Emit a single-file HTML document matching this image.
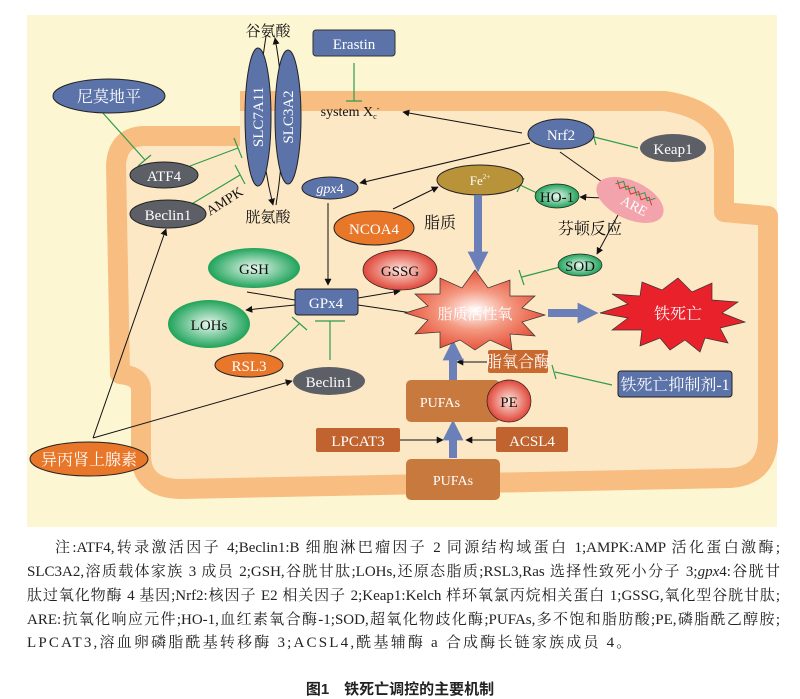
<!DOCTYPE html>
<html><head><meta charset="utf-8"><style>
body{margin:0;width:800px;height:694px;background:#fff;overflow:hidden;position:relative;font-family:"Liberation Serif","Noto Serif CJK SC",serif}
.cap{position:absolute;left:27px;width:753px;font-size:15px;line-height:18px;text-align:justify;text-align-last:justify;white-space:nowrap;color:#222}
.ttl{position:absolute;left:0;width:800px;top:678px;text-align:center;font-family:"Liberation Sans","Noto Sans CJK SC",sans-serif;font-weight:bold;font-size:15px;color:#222}
</style></head><body>
<svg width="800" height="530" style="position:absolute;left:0;top:0" font-family="Liberation Serif, Noto Serif CJK SC, serif">
<defs>
<marker id="a" viewBox="0 0 10 10" refX="9" refY="5" markerWidth="7" markerHeight="7" orient="auto"><path d="M0,0L10,5L0,10z" fill="#111"/></marker>
<marker id="b" viewBox="0 0 10 10" refX="5" refY="5" markerWidth="2.6" markerHeight="2.6" orient="auto"><path d="M0,0L10,5L0,10z" fill="#6b80b8"/></marker>
<radialGradient id="gg"><stop offset="0" stop-color="#e8f7ee"/><stop offset="1" stop-color="#1fa35a"/></radialGradient>
<radialGradient id="rg"><stop offset="0" stop-color="#fde6dc"/><stop offset="1" stop-color="#e0473a"/></radialGradient>
<radialGradient id="sg"><stop offset="0" stop-color="#fff"/><stop offset="0.5" stop-color="#f49880"/><stop offset="1" stop-color="#e8553e"/></radialGradient>
</defs>
<rect x="27" y="15" width="750" height="512" fill="#fdf6d3"/>
<path d="M240,101 L665,101 Q722,110 724,150 L724,212 L768,216 L768,440 Q766,476 730,478 L180,489 Q141,488 141,455 L141,390 Q141,376 120,374 L116,165 Q118,136 145,136 L240,136" fill="#fde8c6" stroke="#f8bd80" stroke-width="20" stroke-linejoin="round"/>
<path d="M266,36 Q252,120 273,205" fill="none" stroke="#111" stroke-width="1" marker-end="url(#a)"/>
<path d="M276,205 Q290,120 275,38" fill="none" stroke="#111" stroke-width="1" marker-end="url(#a)"/>
<ellipse cx="258" cy="117" rx="13" ry="69" fill="#5b73a8" stroke="#222" stroke-width="1"/>
<ellipse cx="288" cy="117" rx="13" ry="67" fill="#5b73a8" stroke="#222" stroke-width="1"/>
<text transform="translate(263,117) rotate(-90)" text-anchor="middle" font-size="15" fill="#fff">SLC7A11</text>
<text transform="translate(293,117) rotate(-90)" text-anchor="middle" font-size="15" fill="#fff">SLC3A2</text>
<text x="268" y="36" text-anchor="middle" font-size="15" fill="#111">谷氨酸</text>
<text x="268" y="222" text-anchor="middle" font-size="15" fill="#111">胱氨酸</text>
<rect x="313" y="30" width="82" height="26" rx="3" fill="#5b73a8" stroke="#333"/>
<text x="354" y="49" text-anchor="middle" font-size="15" fill="#fff">Erastin</text>
<g stroke="#2e9c4c" stroke-width="1.2" fill="none">
<path d="M354,63V101M346,101H362"/>
<path d="M102,112L145,160M138,166L151,155"/>
<path d="M190,166L238,148M234,138L242,158"/>
<path d="M190,205L240,175M235,165L245,184"/>
<path d="M638,148L594,137M592,130L596,145"/>
<path d="M537,193L520,185M524,178L517,192"/>
<path d="M560,267L522,277M519,270L524,285"/>
<path d="M270,352L300,323M292,317L307,330"/>
<path d="M330,360V321M315,321H345"/>
<path d="M612,385L555,372M552,365L556,379"/>
</g>
<text x="350" y="116" text-anchor="middle" font-size="14" fill="#111">system X<tspan font-size="8" dy="3">c</tspan><tspan font-size="8" dy="-8">-</tspan></text>
<ellipse cx="109" cy="96" rx="56" ry="17" fill="#5b73a8" stroke="#222"/>
<text x="109" y="102" text-anchor="middle" font-size="16" fill="#fff">尼莫地平</text>
<ellipse cx="164" cy="175" rx="34" ry="13" fill="#5d5f66" stroke="#222"/>
<text x="164" y="181" text-anchor="middle" font-size="15" fill="#fff">ATF4</text>
<ellipse cx="168" cy="214" rx="38" ry="14" fill="#5d5f66" stroke="#222"/>
<text x="168" y="220" text-anchor="middle" font-size="15" fill="#fff">Beclin1</text>
<text transform="translate(227,205) rotate(-33)" text-anchor="middle" font-size="14" fill="#111">AMPK</text>
<g stroke="#111" stroke-width="1" fill="none" marker-end="url(#a)">
<path d="M522,133L403,112"/>
<path d="M530,143L360,183"/>
<path d="M560,152L612,189"/>
<path d="M603,198L580,197"/>
<path d="M618,215L597,254"/>
<path d="M393,209L438,187"/>
<path d="M328,203V285"/>
<path d="M295,305L246,310"/>
<path d="M358,298L400,291"/>
<path d="M487,362H457"/>
<path d="M93,438L166,229"/>
<path d="M93,438L292,381"/>
<path d="M400,440H443"/>
<path d="M496,440H466"/>
</g>
<path d="M247,292L295,300M358,305L412,313" stroke="#111" stroke-width="1" fill="none"/>
<ellipse cx="330" cy="188" rx="28" ry="11" fill="#5b73a8" stroke="#222"/>
<text x="330" y="193" text-anchor="middle" font-size="14" font-style="italic" fill="#fff">gpx<tspan font-style="normal">4</tspan></text>
<ellipse cx="561" cy="134" rx="33" ry="15" fill="#5b73a8" stroke="#222"/>
<text x="561" y="140" text-anchor="middle" font-size="15" fill="#fff">Nrf2</text>
<ellipse cx="673" cy="148" rx="33" ry="14" fill="#5d5f66"/>
<text x="673" y="154" text-anchor="middle" font-size="15" fill="#fff">Keap1</text>
<ellipse cx="480" cy="180" rx="43" ry="15" fill="#b9933a" stroke="#222"/>
<text x="480" y="185" text-anchor="middle" font-size="13" fill="#fff">Fe<tspan font-size="7" dy="-6">2+</tspan></text>
<ellipse cx="557" cy="196" rx="22" ry="12" fill="url(#gg)" stroke="#222" stroke-width=".7"/>
<text x="557" y="202" text-anchor="middle" font-size="15" fill="#111">HO-1</text>
<ellipse cx="630" cy="200" rx="36" ry="19" transform="rotate(25 630 200)" fill="#f2a3ab"/>
<path d="M612,188l6,6 6,-6 6,6 6,-6 6,6 6,-6 6,6" stroke="#d33" fill="none" transform="rotate(28 630 195)"/>
<path d="M612,192l6,-6 6,6 6,-6 6,6 6,-6 6,6 6,-6" stroke="#2a9a4a" fill="none" transform="rotate(28 630 195)"/>
<text transform="translate(632,210) rotate(28)" text-anchor="middle" font-size="14" fill="#fff">ARE</text>
<ellipse cx="580" cy="265" rx="22" ry="11" fill="url(#gg)" stroke="#222" stroke-width=".7"/>
<text x="580" y="271" text-anchor="middle" font-size="15" fill="#111">SOD</text>
<text x="440" y="228" text-anchor="middle" font-size="16" fill="#111">脂质</text>
<text x="590" y="234" text-anchor="middle" font-size="16" fill="#111">芬顿反应</text>
<ellipse cx="374" cy="228" rx="40" ry="17" fill="#e8772a" stroke="#222"/>
<text x="374" y="234" text-anchor="middle" font-size="15" fill="#fff">NCOA4</text>
<ellipse cx="254" cy="268" rx="46" ry="20" fill="url(#gg)"/>
<text x="254" y="274" text-anchor="middle" font-size="15" fill="#111">GSH</text>
<ellipse cx="400" cy="270" rx="37" ry="20" fill="url(#rg)" stroke="#222" stroke-width=".7"/>
<text x="400" y="276" text-anchor="middle" font-size="15" fill="#111">GSSG</text>
<ellipse cx="209" cy="324" rx="41" ry="24" fill="url(#gg)"/>
<text x="209" y="330" text-anchor="middle" font-size="15" fill="#111">LOHs</text>
<rect x="295" y="289" width="63" height="26" rx="3" fill="#5b73a8" stroke="#222"/>
<text x="326" y="308" text-anchor="middle" font-size="15" fill="#fff">GPx4</text>
<ellipse cx="249" cy="365" rx="34" ry="12" fill="#e8772a" stroke="#222"/>
<text x="249" y="371" text-anchor="middle" font-size="15" fill="#fff">RSL3</text>
<ellipse cx="329" cy="381" rx="36" ry="14" fill="#5d5f66"/>
<text x="329" y="387" text-anchor="middle" font-size="15" fill="#fff">Beclin1</text>
<ellipse cx="89" cy="459" rx="59" ry="17" fill="#e8772a" stroke="#222"/>
<text x="89" y="465" text-anchor="middle" font-size="16" fill="#fff">异丙肾上腺素</text>
<g stroke="#6b80b8" stroke-width="8" fill="none" marker-end="url(#b)">
<path d="M478,195V262"/><path d="M548,313H588"/><path d="M453,390V350"/><path d="M453,458V430"/>
</g>
<polygon points="475,270 488,288 510,280 510,296 535,296 522,308 545,315 522,322 535,336 510,334 512,350 490,340 475,350 460,340 440,348 440,332 415,334 428,320 405,313 428,306 415,294 440,294 440,278 462,288" fill="url(#sg)" stroke="#333" stroke-width=".7"/>
<text x="475" y="319" text-anchor="middle" font-size="15" fill="#fff">脂质活性氧</text>
<polygon points="678,278 692,292 712,283 712,300 738,302 722,313 745,322 720,328 728,343 705,338 700,352 685,340 670,350 660,338 640,346 642,330 612,330 628,318 600,313 628,304 612,294 640,296 642,282 662,290" fill="#e8212a" stroke="#333" stroke-width=".7"/>
<text x="678" y="319" text-anchor="middle" font-size="16" fill="#fff">铁死亡</text>
<rect x="488" y="350" width="60" height="23" rx="2" fill="#c8692f"/>
<text x="518" y="367" text-anchor="middle" font-size="16" fill="#fff">脂氧合酶</text>
<rect x="618" y="371" width="114" height="26" rx="3" fill="#5b73a8" stroke="#222"/>
<text x="675" y="390" text-anchor="middle" font-size="16" fill="#fff">铁死亡抑制剂-1</text>
<rect x="406" y="380" width="94" height="42" rx="5" fill="#c8793e"/>
<text x="440" y="407" text-anchor="middle" font-size="14" fill="#fff">PUFAs</text>
<ellipse cx="509" cy="401" rx="22" ry="21" fill="url(#rg)" stroke="#222" stroke-width=".7"/>
<text x="509" y="407" text-anchor="middle" font-size="15" fill="#111">PE</text>
<rect x="316" y="428" width="84" height="24" rx="2" fill="#c0632e"/>
<text x="358" y="446" text-anchor="middle" font-size="15" fill="#fff">LPCAT3</text>
<rect x="496" y="427" width="72" height="25" rx="2" fill="#c0632e"/>
<text x="532" y="446" text-anchor="middle" font-size="15" fill="#fff">ACSL4</text>
<rect x="406" y="459" width="94" height="41" rx="5" fill="#c8793e"/>
<text x="453" y="485" text-anchor="middle" font-size="14" fill="#fff">PUFAs</text>
</svg>
<div class="cap" style="top:539px;left:55px;width:725px">注:ATF4,转录激活因子 4;Beclin1:B 细胞淋巴瘤因子 2 同源结构域蛋白 1;AMPK:AMP 活化蛋白激酶;</div>
<div class="cap" style="top:563px">SLC3A2,溶质载体家族 3 成员 2;GSH,谷胱甘肽;LOHs,还原态脂质;RSL3,Ras 选择性致死小分子 3;<i>gpx</i>4:谷胱甘</div>
<div class="cap" style="top:587px">肽过氧化物酶 4 基因;Nrf2:核因子 E2 相关因子 2;Keap1:Kelch 样环氧氯丙烷相关蛋白 1;GSSG,氧化型谷胱甘肽;</div>
<div class="cap" style="top:611px">ARE:抗氧化响应元件;HO-1,血红素氧合酶-1;SOD,超氧化物歧化酶;PUFAs,多不饱和脂肪酸;PE,磷脂酰乙醇胺;</div>
<div class="cap" style="top:634px;text-align-last:left;width:auto;letter-spacing:2.2px">LPCAT3,溶血卵磷脂酰基转移酶 3;ACSL4,酰基辅酶 a 合成酶长链家族成员 4。</div>
<div class="ttl">图1　铁死亡调控的主要机制</div>
</body></html>
